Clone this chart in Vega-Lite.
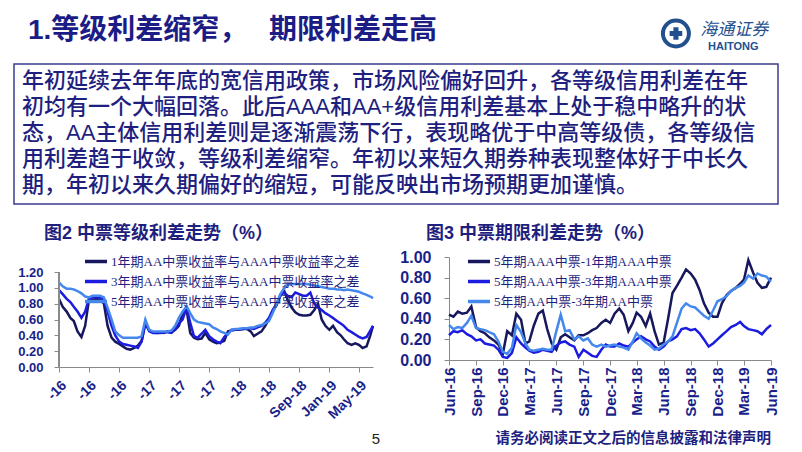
{
"$schema": "https://vega.github.io/schema/vega-lite/v6.json",
"background": "white",
"padding": {"left": 13, "top": 0, "right": 0, "bottom": 0},
"config": {
  "view": {"stroke": null},
  "font": "Liberation Sans, Noto Sans CJK SC",
  "axis": {"grid": false, "domainColor": "#8a8a8a", "tickColor": "#8a8a8a", "tickSize": 5, "labelFont": "Liberation Sans", "labelFontWeight": "bold", "labelColor": "#1a1f8a", "title": null, "labelOverlap": false, "labelBound": false},
  "title": {"font": "Liberation Sans, Noto Sans CJK SC"}
},
"datasets": {
  "para": [
    {"line": 1, "text": "年初延续去年年底的宽信用政策，市场风险偏好回升，各等级信用利差在年"},
    {"line": 2, "text": "初均有一个大幅回落。此后AAA和AA+级信用利差基本上处于稳中略升的状"},
    {"line": 3, "text": "态，AA主体信用利差则是逐渐震荡下行，表现略优于中高等级债，各等级信"},
    {"line": 4, "text": "用利差趋于收敛，等级利差缩窄。年初以来短久期券种表现整体好于中长久"},
    {"line": 5, "text": "期，年初以来久期偏好的缩短，可能反映出市场预期更加谨慎。"}
  ],
  "grade": [
    {"d":"2016-01-01","s":"y1","v":0.86},{"d":"2016-01-16","s":"y1","v":0.76},{"d":"2016-02-01","s":"y1","v":0.70},{"d":"2016-02-16","s":"y1","v":0.62},{"d":"2016-03-01","s":"y1","v":0.58},{"d":"2016-03-16","s":"y1","v":0.45},{"d":"2016-04-01","s":"y1","v":0.38},{"d":"2016-04-16","s":"y1","v":0.52},{"d":"2016-05-01","s":"y1","v":0.84},{"d":"2016-05-16","s":"y1","v":0.85},{"d":"2016-06-01","s":"y1","v":0.86},{"d":"2016-06-16","s":"y1","v":0.85},{"d":"2016-07-01","s":"y1","v":0.80},{"d":"2016-07-16","s":"y1","v":0.52},{"d":"2016-08-01","s":"y1","v":0.37},{"d":"2016-08-16","s":"y1","v":0.32},{"d":"2016-09-01","s":"y1","v":0.29},{"d":"2016-09-16","s":"y1","v":0.26},{"d":"2016-10-01","s":"y1","v":0.23},{"d":"2016-10-16","s":"y1","v":0.22},{"d":"2016-11-01","s":"y1","v":0.24},{"d":"2016-11-16","s":"y1","v":0.27},{"d":"2016-12-01","s":"y1","v":0.33},{"d":"2016-12-16","s":"y1","v":0.55},
    {"d":"2017-01-01","s":"y1","v":0.46},{"d":"2017-01-16","s":"y1","v":0.44},{"d":"2017-02-01","s":"y1","v":0.43},{"d":"2017-02-16","s":"y1","v":0.44},{"d":"2017-03-01","s":"y1","v":0.43},{"d":"2017-03-16","s":"y1","v":0.45},{"d":"2017-04-01","s":"y1","v":0.44},{"d":"2017-04-16","s":"y1","v":0.47},{"d":"2017-05-01","s":"y1","v":0.52},{"d":"2017-05-16","s":"y1","v":0.68},{"d":"2017-06-01","s":"y1","v":0.73},{"d":"2017-06-16","s":"y1","v":0.43},{"d":"2017-07-01","s":"y1","v":0.37},{"d":"2017-07-16","s":"y1","v":0.35},{"d":"2017-08-01","s":"y1","v":0.36},{"d":"2017-08-16","s":"y1","v":0.43},{"d":"2017-09-01","s":"y1","v":0.35},{"d":"2017-09-16","s":"y1","v":0.32},{"d":"2017-10-01","s":"y1","v":0.30},{"d":"2017-10-16","s":"y1","v":0.31},{"d":"2017-11-01","s":"y1","v":0.33},{"d":"2017-11-16","s":"y1","v":0.45},{"d":"2017-12-01","s":"y1","v":0.46},{"d":"2017-12-16","s":"y1","v":0.47},
    {"d":"2018-01-01","s":"y1","v":0.47},{"d":"2018-01-16","s":"y1","v":0.48},{"d":"2018-02-01","s":"y1","v":0.48},{"d":"2018-02-16","s":"y1","v":0.45},{"d":"2018-03-01","s":"y1","v":0.39},{"d":"2018-03-16","s":"y1","v":0.42},{"d":"2018-04-01","s":"y1","v":0.45},{"d":"2018-04-16","s":"y1","v":0.52},{"d":"2018-05-01","s":"y1","v":0.60},{"d":"2018-05-16","s":"y1","v":0.70},{"d":"2018-06-01","s":"y1","v":0.78},{"d":"2018-06-16","s":"y1","v":0.90},{"d":"2018-07-01","s":"y1","v":0.97},{"d":"2018-07-16","s":"y1","v":0.85},{"d":"2018-08-01","s":"y1","v":0.75},{"d":"2018-08-16","s":"y1","v":0.69},{"d":"2018-09-01","s":"y1","v":0.66},{"d":"2018-09-16","s":"y1","v":0.65},{"d":"2018-10-01","s":"y1","v":0.65},{"d":"2018-10-16","s":"y1","v":0.66},{"d":"2018-11-01","s":"y1","v":0.72},{"d":"2018-11-16","s":"y1","v":0.80},{"d":"2018-12-01","s":"y1","v":0.60},{"d":"2018-12-16","s":"y1","v":0.52},
    {"d":"2019-01-01","s":"y1","v":0.47},{"d":"2019-01-16","s":"y1","v":0.52},{"d":"2019-02-01","s":"y1","v":0.44},{"d":"2019-02-16","s":"y1","v":0.40},{"d":"2019-03-01","s":"y1","v":0.35},{"d":"2019-03-16","s":"y1","v":0.30},{"d":"2019-04-01","s":"y1","v":0.28},{"d":"2019-04-16","s":"y1","v":0.30},{"d":"2019-05-01","s":"y1","v":0.28},{"d":"2019-05-16","s":"y1","v":0.24},{"d":"2019-06-01","s":"y1","v":0.26},{"d":"2019-06-16","s":"y1","v":0.40},{"d":"2019-06-27","s":"y1","v":0.52},

    {"d":"2016-01-01","s":"y3","v":0.97},{"d":"2016-01-16","s":"y3","v":0.92},{"d":"2016-02-01","s":"y3","v":0.86},{"d":"2016-02-16","s":"y3","v":0.82},{"d":"2016-03-01","s":"y3","v":0.76},{"d":"2016-03-16","s":"y3","v":0.70},{"d":"2016-04-01","s":"y3","v":0.62},{"d":"2016-04-16","s":"y3","v":0.70},{"d":"2016-05-01","s":"y3","v":0.86},{"d":"2016-05-16","s":"y3","v":0.88},{"d":"2016-06-01","s":"y3","v":0.88},{"d":"2016-06-16","s":"y3","v":0.88},{"d":"2016-07-01","s":"y3","v":0.84},{"d":"2016-07-16","s":"y3","v":0.70},{"d":"2016-08-01","s":"y3","v":0.52},{"d":"2016-08-16","s":"y3","v":0.40},{"d":"2016-09-01","s":"y3","v":0.32},{"d":"2016-09-16","s":"y3","v":0.29},{"d":"2016-10-01","s":"y3","v":0.28},{"d":"2016-10-16","s":"y3","v":0.27},{"d":"2016-11-01","s":"y3","v":0.26},{"d":"2016-11-16","s":"y3","v":0.24},{"d":"2016-12-01","s":"y3","v":0.32},{"d":"2016-12-16","s":"y3","v":0.56},
    {"d":"2017-01-01","s":"y3","v":0.45},{"d":"2017-01-16","s":"y3","v":0.43},{"d":"2017-02-01","s":"y3","v":0.43},{"d":"2017-02-16","s":"y3","v":0.43},{"d":"2017-03-01","s":"y3","v":0.44},{"d":"2017-03-16","s":"y3","v":0.44},{"d":"2017-04-01","s":"y3","v":0.43},{"d":"2017-04-16","s":"y3","v":0.48},{"d":"2017-05-01","s":"y3","v":0.55},{"d":"2017-05-16","s":"y3","v":0.60},{"d":"2017-06-01","s":"y3","v":0.75},{"d":"2017-06-16","s":"y3","v":0.56},{"d":"2017-07-01","s":"y3","v":0.39},{"d":"2017-07-16","s":"y3","v":0.37},{"d":"2017-08-01","s":"y3","v":0.42},{"d":"2017-08-16","s":"y3","v":0.47},{"d":"2017-09-01","s":"y3","v":0.39},{"d":"2017-09-16","s":"y3","v":0.35},{"d":"2017-10-01","s":"y3","v":0.32},{"d":"2017-10-16","s":"y3","v":0.30},{"d":"2017-11-01","s":"y3","v":0.38},{"d":"2017-11-16","s":"y3","v":0.43},{"d":"2017-12-01","s":"y3","v":0.47},{"d":"2017-12-16","s":"y3","v":0.47},
    {"d":"2018-01-01","s":"y3","v":0.48},{"d":"2018-01-16","s":"y3","v":0.48},{"d":"2018-02-01","s":"y3","v":0.49},{"d":"2018-02-16","s":"y3","v":0.49},{"d":"2018-03-01","s":"y3","v":0.48},{"d":"2018-03-16","s":"y3","v":0.50},{"d":"2018-04-01","s":"y3","v":0.52},{"d":"2018-04-16","s":"y3","v":0.56},{"d":"2018-05-01","s":"y3","v":0.62},{"d":"2018-05-16","s":"y3","v":0.72},{"d":"2018-06-01","s":"y3","v":0.80},{"d":"2018-06-16","s":"y3","v":0.90},{"d":"2018-07-01","s":"y3","v":0.94},{"d":"2018-07-16","s":"y3","v":0.90},{"d":"2018-08-01","s":"y3","v":0.88},{"d":"2018-08-16","s":"y3","v":0.94},{"d":"2018-09-01","s":"y3","v":0.92},{"d":"2018-09-16","s":"y3","v":0.90},{"d":"2018-10-01","s":"y3","v":0.90},{"d":"2018-10-16","s":"y3","v":0.94},{"d":"2018-11-01","s":"y3","v":0.80},{"d":"2018-11-16","s":"y3","v":0.75},{"d":"2018-12-01","s":"y3","v":0.72},{"d":"2018-12-16","s":"y3","v":0.68},
    {"d":"2019-01-01","s":"y3","v":0.65},{"d":"2019-01-16","s":"y3","v":0.62},{"d":"2019-02-01","s":"y3","v":0.58},{"d":"2019-02-16","s":"y3","v":0.55},{"d":"2019-03-01","s":"y3","v":0.52},{"d":"2019-03-16","s":"y3","v":0.47},{"d":"2019-04-01","s":"y3","v":0.44},{"d":"2019-04-16","s":"y3","v":0.41},{"d":"2019-05-01","s":"y3","v":0.38},{"d":"2019-05-16","s":"y3","v":0.36},{"d":"2019-06-01","s":"y3","v":0.38},{"d":"2019-06-16","s":"y3","v":0.46},{"d":"2019-06-27","s":"y3","v":0.52},

    {"d":"2016-01-01","s":"y5","v":1.07},{"d":"2016-01-16","s":"y5","v":1.02},{"d":"2016-02-01","s":"y5","v":0.99},{"d":"2016-02-16","s":"y5","v":0.99},{"d":"2016-03-01","s":"y5","v":0.98},{"d":"2016-03-16","s":"y5","v":0.96},{"d":"2016-04-01","s":"y5","v":0.93},{"d":"2016-04-16","s":"y5","v":0.89},{"d":"2016-05-01","s":"y5","v":0.88},{"d":"2016-05-16","s":"y5","v":0.90},{"d":"2016-06-01","s":"y5","v":0.90},{"d":"2016-06-16","s":"y5","v":0.90},{"d":"2016-07-01","s":"y5","v":0.88},{"d":"2016-07-16","s":"y5","v":0.75},{"d":"2016-08-01","s":"y5","v":0.60},{"d":"2016-08-16","s":"y5","v":0.45},{"d":"2016-09-01","s":"y5","v":0.40},{"d":"2016-09-16","s":"y5","v":0.37},{"d":"2016-10-01","s":"y5","v":0.37},{"d":"2016-10-16","s":"y5","v":0.37},{"d":"2016-11-01","s":"y5","v":0.37},{"d":"2016-11-16","s":"y5","v":0.37},{"d":"2016-12-01","s":"y5","v":0.39},{"d":"2016-12-16","s":"y5","v":0.60},
    {"d":"2017-01-01","s":"y5","v":0.47},{"d":"2017-01-16","s":"y5","v":0.45},{"d":"2017-02-01","s":"y5","v":0.45},{"d":"2017-02-16","s":"y5","v":0.45},{"d":"2017-03-01","s":"y5","v":0.45},{"d":"2017-03-16","s":"y5","v":0.45},{"d":"2017-04-01","s":"y5","v":0.46},{"d":"2017-04-16","s":"y5","v":0.52},{"d":"2017-05-01","s":"y5","v":0.62},{"d":"2017-05-16","s":"y5","v":0.70},{"d":"2017-06-01","s":"y5","v":0.77},{"d":"2017-06-16","s":"y5","v":0.68},{"d":"2017-07-01","s":"y5","v":0.60},{"d":"2017-07-16","s":"y5","v":0.57},{"d":"2017-08-01","s":"y5","v":0.56},{"d":"2017-08-16","s":"y5","v":0.55},{"d":"2017-09-01","s":"y5","v":0.54},{"d":"2017-09-16","s":"y5","v":0.50},{"d":"2017-10-01","s":"y5","v":0.48},{"d":"2017-10-16","s":"y5","v":0.45},{"d":"2017-11-01","s":"y5","v":0.43},{"d":"2017-11-16","s":"y5","v":0.41},{"d":"2017-12-01","s":"y5","v":0.47},{"d":"2017-12-16","s":"y5","v":0.48},
    {"d":"2018-01-01","s":"y5","v":0.48},{"d":"2018-01-16","s":"y5","v":0.49},{"d":"2018-02-01","s":"y5","v":0.49},{"d":"2018-02-16","s":"y5","v":0.50},{"d":"2018-03-01","s":"y5","v":0.50},{"d":"2018-03-16","s":"y5","v":0.52},{"d":"2018-04-01","s":"y5","v":0.53},{"d":"2018-04-16","s":"y5","v":0.55},{"d":"2018-05-01","s":"y5","v":0.58},{"d":"2018-05-16","s":"y5","v":0.68},{"d":"2018-06-01","s":"y5","v":0.80},{"d":"2018-06-16","s":"y5","v":0.92},{"d":"2018-07-01","s":"y5","v":0.99},{"d":"2018-07-16","s":"y5","v":1.04},{"d":"2018-08-01","s":"y5","v":1.05},{"d":"2018-08-16","s":"y5","v":1.05},{"d":"2018-09-01","s":"y5","v":1.05},{"d":"2018-09-16","s":"y5","v":1.05},{"d":"2018-10-01","s":"y5","v":1.05},{"d":"2018-10-16","s":"y5","v":1.04},{"d":"2018-11-01","s":"y5","v":1.03},{"d":"2018-11-16","s":"y5","v":1.02},{"d":"2018-12-01","s":"y5","v":1.01},{"d":"2018-12-16","s":"y5","v":1.00},
    {"d":"2019-01-01","s":"y5","v":0.99},{"d":"2019-01-16","s":"y5","v":0.99},{"d":"2019-02-01","s":"y5","v":0.98},{"d":"2019-02-16","s":"y5","v":0.98},{"d":"2019-03-01","s":"y5","v":0.97},{"d":"2019-03-16","s":"y5","v":0.98},{"d":"2019-04-01","s":"y5","v":0.97},{"d":"2019-04-16","s":"y5","v":0.96},{"d":"2019-05-01","s":"y5","v":0.95},{"d":"2019-05-16","s":"y5","v":0.93},{"d":"2019-06-01","s":"y5","v":0.91},{"d":"2019-06-16","s":"y5","v":0.89},{"d":"2019-06-27","s":"y5","v":0.87}
  ],
  "term": [
    {"d":"2016-06-01","s":"a","v":0.44},{"d":"2016-06-16","s":"a","v":0.42},{"d":"2016-07-01","s":"a","v":0.47},{"d":"2016-07-16","s":"a","v":0.45},{"d":"2016-08-01","s":"a","v":0.46},{"d":"2016-08-16","s":"a","v":0.52},{"d":"2016-09-01","s":"a","v":0.32},{"d":"2016-09-16","s":"a","v":0.28},{"d":"2016-10-01","s":"a","v":0.26},{"d":"2016-10-16","s":"a","v":0.22},{"d":"2016-11-01","s":"a","v":0.19},{"d":"2016-11-16","s":"a","v":0.15},{"d":"2016-12-01","s":"a","v":0.06},{"d":"2016-12-16","s":"a","v":0.28},
    {"d":"2017-01-01","s":"a","v":0.24},{"d":"2017-01-16","s":"a","v":0.45},{"d":"2017-02-01","s":"a","v":0.39},{"d":"2017-02-16","s":"a","v":0.16},{"d":"2017-03-01","s":"a","v":0.18},{"d":"2017-03-16","s":"a","v":0.33},{"d":"2017-04-01","s":"a","v":0.45},{"d":"2017-04-16","s":"a","v":0.48},{"d":"2017-05-01","s":"a","v":0.30},{"d":"2017-05-16","s":"a","v":0.16},{"d":"2017-06-01","s":"a","v":0.10},{"d":"2017-06-16","s":"a","v":0.22},{"d":"2017-07-01","s":"a","v":0.25},{"d":"2017-07-16","s":"a","v":0.22},{"d":"2017-08-01","s":"a","v":0.19},{"d":"2017-08-16","s":"a","v":0.24},{"d":"2017-09-01","s":"a","v":0.24},{"d":"2017-09-16","s":"a","v":0.26},{"d":"2017-10-01","s":"a","v":0.29},{"d":"2017-10-16","s":"a","v":0.31},{"d":"2017-11-01","s":"a","v":0.36},{"d":"2017-11-16","s":"a","v":0.39},{"d":"2017-12-01","s":"a","v":0.36},{"d":"2017-12-16","s":"a","v":0.45},
    {"d":"2018-01-01","s":"a","v":0.50},{"d":"2018-01-16","s":"a","v":0.44},{"d":"2018-02-01","s":"a","v":0.28},{"d":"2018-02-16","s":"a","v":0.36},{"d":"2018-03-01","s":"a","v":0.46},{"d":"2018-03-16","s":"a","v":0.42},{"d":"2018-04-01","s":"a","v":0.33},{"d":"2018-04-16","s":"a","v":0.45},{"d":"2018-05-01","s":"a","v":0.28},{"d":"2018-05-16","s":"a","v":0.15},{"d":"2018-06-01","s":"a","v":0.17},{"d":"2018-06-16","s":"a","v":0.40},{"d":"2018-07-01","s":"a","v":0.65},{"d":"2018-07-16","s":"a","v":0.72},{"d":"2018-08-01","s":"a","v":0.80},{"d":"2018-08-16","s":"a","v":0.88},{"d":"2018-09-01","s":"a","v":0.84},{"d":"2018-09-16","s":"a","v":0.78},{"d":"2018-10-01","s":"a","v":0.68},{"d":"2018-10-16","s":"a","v":0.55},{"d":"2018-11-01","s":"a","v":0.46},{"d":"2018-11-16","s":"a","v":0.42},{"d":"2018-12-01","s":"a","v":0.42},{"d":"2018-12-16","s":"a","v":0.55},
    {"d":"2019-01-01","s":"a","v":0.63},{"d":"2019-01-16","s":"a","v":0.67},{"d":"2019-02-01","s":"a","v":0.70},{"d":"2019-02-16","s":"a","v":0.74},{"d":"2019-03-01","s":"a","v":0.78},{"d":"2019-03-16","s":"a","v":0.97},{"d":"2019-04-01","s":"a","v":0.85},{"d":"2019-04-16","s":"a","v":0.75},{"d":"2019-05-01","s":"a","v":0.70},{"d":"2019-05-16","s":"a","v":0.71},{"d":"2019-06-01","s":"a","v":0.80},

    {"d":"2016-06-01","s":"b","v":0.24},{"d":"2016-06-16","s":"b","v":0.28},{"d":"2016-07-01","s":"b","v":0.27},{"d":"2016-07-16","s":"b","v":0.29},{"d":"2016-08-01","s":"b","v":0.25},{"d":"2016-08-16","s":"b","v":0.23},{"d":"2016-09-01","s":"b","v":0.19},{"d":"2016-09-16","s":"b","v":0.20},{"d":"2016-10-01","s":"b","v":0.16},{"d":"2016-10-16","s":"b","v":0.15},{"d":"2016-11-01","s":"b","v":0.14},{"d":"2016-11-16","s":"b","v":0.10},{"d":"2016-12-01","s":"b","v":0.03},{"d":"2016-12-16","s":"b","v":0.02},
    {"d":"2017-01-01","s":"b","v":0.07},{"d":"2017-01-16","s":"b","v":0.22},{"d":"2017-02-01","s":"b","v":0.16},{"d":"2017-02-16","s":"b","v":0.12},{"d":"2017-03-01","s":"b","v":0.09},{"d":"2017-03-16","s":"b","v":0.07},{"d":"2017-04-01","s":"b","v":0.08},{"d":"2017-04-16","s":"b","v":0.10},{"d":"2017-05-01","s":"b","v":0.09},{"d":"2017-05-16","s":"b","v":0.08},{"d":"2017-06-01","s":"b","v":0.14},{"d":"2017-06-16","s":"b","v":0.17},{"d":"2017-07-01","s":"b","v":0.18},{"d":"2017-07-16","s":"b","v":0.15},{"d":"2017-08-01","s":"b","v":0.13},{"d":"2017-08-16","s":"b","v":0.03},{"d":"2017-09-01","s":"b","v":0.10},{"d":"2017-09-16","s":"b","v":0.07},{"d":"2017-10-01","s":"b","v":0.04},{"d":"2017-10-16","s":"b","v":0.03},{"d":"2017-11-01","s":"b","v":0.10},{"d":"2017-11-16","s":"b","v":0.15},{"d":"2017-12-01","s":"b","v":0.13},{"d":"2017-12-16","s":"b","v":0.13},
    {"d":"2018-01-01","s":"b","v":0.16},{"d":"2018-01-16","s":"b","v":0.14},{"d":"2018-02-01","s":"b","v":0.13},{"d":"2018-02-16","s":"b","v":0.17},{"d":"2018-03-01","s":"b","v":0.20},{"d":"2018-03-16","s":"b","v":0.23},{"d":"2018-04-01","s":"b","v":0.20},{"d":"2018-04-16","s":"b","v":0.18},{"d":"2018-05-01","s":"b","v":0.13},{"d":"2018-05-16","s":"b","v":0.10},{"d":"2018-06-01","s":"b","v":0.13},{"d":"2018-06-16","s":"b","v":0.18},{"d":"2018-07-01","s":"b","v":0.20},{"d":"2018-07-16","s":"b","v":0.23},{"d":"2018-08-01","s":"b","v":0.30},{"d":"2018-08-16","s":"b","v":0.31},{"d":"2018-09-01","s":"b","v":0.29},{"d":"2018-09-16","s":"b","v":0.30},{"d":"2018-10-01","s":"b","v":0.26},{"d":"2018-10-16","s":"b","v":0.20},{"d":"2018-11-01","s":"b","v":0.13},{"d":"2018-11-16","s":"b","v":0.16},{"d":"2018-12-01","s":"b","v":0.20},{"d":"2018-12-16","s":"b","v":0.24},
    {"d":"2019-01-01","s":"b","v":0.28},{"d":"2019-01-16","s":"b","v":0.32},{"d":"2019-02-01","s":"b","v":0.34},{"d":"2019-02-16","s":"b","v":0.37},{"d":"2019-03-01","s":"b","v":0.33},{"d":"2019-03-16","s":"b","v":0.30},{"d":"2019-04-01","s":"b","v":0.29},{"d":"2019-04-16","s":"b","v":0.28},{"d":"2019-05-01","s":"b","v":0.25},{"d":"2019-05-16","s":"b","v":0.30},{"d":"2019-06-01","s":"b","v":0.34},

    {"d":"2016-06-01","s":"c","v":0.34},{"d":"2016-06-16","s":"c","v":0.30},{"d":"2016-07-01","s":"c","v":0.32},{"d":"2016-07-16","s":"c","v":0.31},{"d":"2016-08-01","s":"c","v":0.36},{"d":"2016-08-16","s":"c","v":0.43},{"d":"2016-09-01","s":"c","v":0.31},{"d":"2016-09-16","s":"c","v":0.30},{"d":"2016-10-01","s":"c","v":0.29},{"d":"2016-10-16","s":"c","v":0.27},{"d":"2016-11-01","s":"c","v":0.25},{"d":"2016-11-16","s":"c","v":0.18},{"d":"2016-12-01","s":"c","v":0.08},{"d":"2016-12-16","s":"c","v":0.06},
    {"d":"2017-01-01","s":"c","v":0.12},{"d":"2017-01-16","s":"c","v":0.34},{"d":"2017-02-01","s":"c","v":0.27},{"d":"2017-02-16","s":"c","v":0.16},{"d":"2017-03-01","s":"c","v":0.10},{"d":"2017-03-16","s":"c","v":0.09},{"d":"2017-04-01","s":"c","v":0.10},{"d":"2017-04-16","s":"c","v":0.11},{"d":"2017-05-01","s":"c","v":0.10},{"d":"2017-05-16","s":"c","v":0.10},{"d":"2017-06-01","s":"c","v":0.28},{"d":"2017-06-16","s":"c","v":0.44},{"d":"2017-07-01","s":"c","v":0.28},{"d":"2017-07-16","s":"c","v":0.29},{"d":"2017-08-01","s":"c","v":0.20},{"d":"2017-08-16","s":"c","v":0.23},{"d":"2017-09-01","s":"c","v":0.19},{"d":"2017-09-16","s":"c","v":0.21},{"d":"2017-10-01","s":"c","v":0.15},{"d":"2017-10-16","s":"c","v":0.13},{"d":"2017-11-01","s":"c","v":0.15},{"d":"2017-11-16","s":"c","v":0.13},{"d":"2017-12-01","s":"c","v":0.14},{"d":"2017-12-16","s":"c","v":0.15},
    {"d":"2018-01-01","s":"c","v":0.13},{"d":"2018-01-16","s":"c","v":0.12},{"d":"2018-02-01","s":"c","v":0.10},{"d":"2018-02-16","s":"c","v":0.18},{"d":"2018-03-01","s":"c","v":0.26},{"d":"2018-03-16","s":"c","v":0.21},{"d":"2018-04-01","s":"c","v":0.17},{"d":"2018-04-16","s":"c","v":0.14},{"d":"2018-05-01","s":"c","v":0.10},{"d":"2018-05-16","s":"c","v":0.11},{"d":"2018-06-01","s":"c","v":0.15},{"d":"2018-06-16","s":"c","v":0.18},{"d":"2018-07-01","s":"c","v":0.23},{"d":"2018-07-16","s":"c","v":0.36},{"d":"2018-08-01","s":"c","v":0.50},{"d":"2018-08-16","s":"c","v":0.55},{"d":"2018-09-01","s":"c","v":0.52},{"d":"2018-09-16","s":"c","v":0.51},{"d":"2018-10-01","s":"c","v":0.47},{"d":"2018-10-16","s":"c","v":0.43},{"d":"2018-11-01","s":"c","v":0.40},{"d":"2018-11-16","s":"c","v":0.48},{"d":"2018-12-01","s":"c","v":0.57},{"d":"2018-12-16","s":"c","v":0.59},
    {"d":"2019-01-01","s":"c","v":0.62},{"d":"2019-01-16","s":"c","v":0.67},{"d":"2019-02-01","s":"c","v":0.70},{"d":"2019-02-16","s":"c","v":0.72},{"d":"2019-03-01","s":"c","v":0.75},{"d":"2019-03-16","s":"c","v":0.82},{"d":"2019-04-01","s":"c","v":0.79},{"d":"2019-04-16","s":"c","v":0.84},{"d":"2019-05-01","s":"c","v":0.82},{"d":"2019-05-16","s":"c","v":0.81},{"d":"2019-06-01","s":"c","v":0.76}
  ]
},
"columns": 1,
"spacing": 0,
"concat": [
  {
    "width": 776, "height": 63,
    "data": {"values": [{}]},
    "layer": [
      {"mark": {"type": "text", "text": "1.等级利差缩窄，　 期限利差走高", "align": "left", "baseline": "middle", "fontSize": 28, "fontWeight": "bold", "color": "#1c1c86"},
       "encoding": {"x": {"datum": 0.018, "type": "quantitative", "scale": {"domain": [0, 1]}, "axis": null}, "y": {"datum": 0.508, "type": "quantitative", "scale": {"domain": [0, 1]}, "axis": null}}},
      {"mark": {"type": "point", "shape": "circle", "size": 676, "filled": false, "stroke": "#22508f", "strokeWidth": 4, "opacity": 1},
       "encoding": {"x": {"datum": 0.853, "type": "quantitative", "axis": null}, "y": {"datum": 0.468, "type": "quantitative", "axis": null}}},
      {"mark": {"type": "point", "shape": "cross", "size": 160, "filled": true, "color": "#22508f", "opacity": 1},
       "encoding": {"x": {"datum": 0.853, "type": "quantitative", "axis": null}, "y": {"datum": 0.468, "type": "quantitative", "axis": null}}},
      {"mark": {"type": "text", "text": "海通证券", "align": "center", "baseline": "middle", "fontSize": 17, "fontStyle": "italic", "color": "#22508f", "font": "Noto Sans CJK SC"},
       "encoding": {"x": {"datum": 0.928, "type": "quantitative", "axis": null}, "y": {"datum": 0.516, "type": "quantitative", "axis": null}}},
      {"mark": {"type": "text", "text": "HAITONG", "align": "center", "baseline": "middle", "fontSize": 11, "fontWeight": "bold", "color": "#22508f", "font": "Liberation Sans"},
       "encoding": {"x": {"datum": 0.927, "type": "quantitative", "axis": null}, "y": {"datum": 0.254, "type": "quantitative", "axis": null}}}
    ]
  },
  {
    "columns": 1,
    "spacing": 19,
    "concat": [
      {
        "width": 764, "height": 140,
        "view": {"stroke": "#3b3b8f", "strokeWidth": 1.5},
        "data": {"name": "para"},
        "mark": {"type": "text", "align": "left", "baseline": "middle", "fontSize": 22, "fontWeight": 500, "color": "#1f1f80", "dx": 8, "dy": -1},
        "encoding": {
          "x": {"datum": 0, "type": "quantitative", "scale": {"domain": [0, 1]}, "axis": null},
          "y": {"field": "line", "type": "ordinal", "scale": {"type": "point", "padding": 0.69}, "axis": null},
          "text": {"field": "text", "type": "nominal"}
        }
      },
      {
        "columns": 2,
        "spacing": 0,
        "concat": [
          {"width": 3, "height": 1, "data": {"values": [{}]}, "mark": {"type": "text", "text": ""}},
          {
            "columns": 2,
            "spacing": 21,
            "concat": [
              {
                "width": 314, "height": 110,
                "title": {"text": "图2 中票等级利差走势（%）", "anchor": "start", "frame": "group", "dx": -15, "offset": 6, "fontSize": 18, "fontWeight": "bold", "color": "#1f1f80"},
                "data": {"name": "grade"},
                "resolve": {"axis": {"x": "independent", "y": "independent"}},
                "layer": [
                  {
                    "mark": {"type": "line", "strokeWidth": 2.5},
                    "encoding": {
                      "x": {"field": "d", "type": "temporal",
                        "scale": {"type": "utc", "nice": false, "domain": [{"year": 2016, "month": 1, "date": 1, "utc": true}, {"year": 2019, "month": 6, "date": 27, "utc": true}]},
                        "axis": {"values": [{"year": 2016, "month": 1, "date": 1, "utc": true}, {"year": 2016, "month": 5, "date": 1, "utc": true}, {"year": 2016, "month": 9, "date": 1, "utc": true}, {"year": 2017, "month": 1, "date": 1, "utc": true}, {"year": 2017, "month": 5, "date": 1, "utc": true}, {"year": 2017, "month": 9, "date": 1, "utc": true}, {"year": 2018, "month": 1, "date": 1, "utc": true}, {"year": 2018, "month": 5, "date": 1, "utc": true}, {"year": 2018, "month": 9, "date": 1, "utc": true}, {"year": 2019, "month": 1, "date": 1, "utc": true}, {"year": 2019, "month": 5, "date": 1, "utc": true}],
                          "labelAngle": -45, "labelFontSize": 14, "labelPadding": 6, "labelOverlap": false, "labelFlush": false,
                          "labelExpr": "datum.value < utc(2018, 7, 1) ? '-' + utcFormat(datum.value, '%y') : utcFormat(datum.value, '%b-%y')"}},
                      "y": {"field": "v", "type": "quantitative", "scale": {"domain": [0, 1.3895], "nice": false, "zero": true},
                        "axis": {"values": [0, 0.2, 0.4, 0.6, 0.8, 1.0, 1.2], "format": ".2f", "labelFontSize": 13, "labelPadding": 11, "domain": false, "labelOverlap": false, "labelFlush": false}},
                      "color": {"field": "s", "type": "nominal",
                        "scale": {"domain": ["y1", "y3", "y5"], "range": ["#17175e", "#1c1ce0", "#4488ee"]},
                        "legend": {"orient": "none", "legendX": 24, "legendY": -8.5, "title": null, "symbolType": "stroke", "symbolSize": 484, "symbolStrokeWidth": 3.5, "labelFont": "Liberation Serif, Noto Sans CJK SC", "labelFontSize": 13, "labelColor": "#1f1f80", "rowPadding": -2, "labelOffset": 2, "labelLimit": 400,
                          "labelExpr": "datum.label == 'y1' ? '1年期AA中票收益率与AAA中票收益率之差' : datum.label == 'y3' ? '3年期AA中票收益率与AAA中票收益率之差' : '5年期AA中票收益率与AAA中票收益率之差'"}}
                    }
                  },
                  {
                    "mark": {"type": "rule", "color": "#8a8a8a", "strokeWidth": 1},
                    "encoding": {
                      "x": {"datum": {"year": 2016, "month": 1, "date": 1, "utc": true}, "type": "temporal", "axis": null},
                      "y": {"datum": 0, "type": "quantitative", "axis": null},
                      "y2": {"datum": 1.2}
                    }
                  }
                ]
              },
              {
                "width": 322, "height": 103,
                "title": {"text": "图3 中票期限利差走势（%）", "anchor": "start", "frame": "group", "dx": -23, "offset": 6, "fontSize": 18, "fontWeight": "bold", "color": "#1f1f80"},
                "data": {"name": "term"},
                "mark": {"type": "line", "strokeWidth": 2.5},
                "encoding": {
                  "x": {"field": "d", "type": "temporal",
                    "scale": {"type": "utc", "nice": false, "domain": [{"year": 2016, "month": 6, "date": 1, "utc": true}, {"year": 2019, "month": 6, "date": 1, "utc": true}]},
                    "axis": {"values": [{"year": 2016, "month": 6, "date": 1, "utc": true}, {"year": 2016, "month": 9, "date": 1, "utc": true}, {"year": 2016, "month": 12, "date": 1, "utc": true}, {"year": 2017, "month": 3, "date": 1, "utc": true}, {"year": 2017, "month": 6, "date": 1, "utc": true}, {"year": 2017, "month": 9, "date": 1, "utc": true}, {"year": 2017, "month": 12, "date": 1, "utc": true}, {"year": 2018, "month": 3, "date": 1, "utc": true}, {"year": 2018, "month": 6, "date": 1, "utc": true}, {"year": 2018, "month": 9, "date": 1, "utc": true}, {"year": 2018, "month": 12, "date": 1, "utc": true}, {"year": 2019, "month": 3, "date": 1, "utc": true}, {"year": 2019, "month": 6, "date": 1, "utc": true}],
                      "labelAngle": -90, "labelFontSize": 15, "labelPadding": 2, "labelOverlap": false,
                      "labelExpr": "utcFormat(datum.value, '%b-%y')"}},
                  "y": {"field": "v", "type": "quantitative", "scale": {"domain": [0, 1], "nice": false},
                    "axis": {"values": [0, 0.2, 0.4, 0.6, 0.8, 1.0], "format": ".2f", "labelFontSize": 16, "labelPadding": 13, "labelOverlap": false}},
                  "color": {"field": "s", "type": "nominal",
                    "scale": {"domain": ["a", "b", "c"], "range": ["#17175e", "#1c1ce0", "#4488ee"]},
                    "legend": {"orient": "none", "legendX": 17, "legendY": -8.5, "title": null, "symbolType": "stroke", "symbolSize": 484, "symbolStrokeWidth": 3.5, "labelFont": "Liberation Serif, Noto Sans CJK SC", "labelFontSize": 13, "labelColor": "#1f1f80", "rowPadding": -2, "labelOffset": 2, "labelLimit": 400,
                      "labelExpr": "datum.label == 'a' ? '5年期AAA中票-1年期AAA中票' : datum.label == 'b' ? '5年期AAA中票-3年期AAA中票' : '5年期AA中票-3年期AA中票'"}}
                }
              }
            ],
            "resolve": {"scale": {"x": "independent", "y": "independent", "color": "independent"}}
          }
        ]
      }
    ]
  },
  {
    "width": 776, "height": 40,
    "data": {"values": [{}]},
    "layer": [
      {"mark": {"type": "text", "text": "5", "align": "center", "baseline": "middle", "fontSize": 15, "color": "#222222", "font": "Liberation Sans"},
       "encoding": {"x": {"datum": 0.4665, "type": "quantitative", "scale": {"domain": [0, 1]}, "axis": null}, "y": {"datum": 0.575, "type": "quantitative", "scale": {"domain": [0, 1]}, "axis": null}}},
      {"mark": {"type": "text", "text": "请务必阅读正文之后的信息披露和法律声明", "align": "center", "baseline": "middle", "fontSize": 14.5, "fontWeight": "bold", "color": "#1f1f80", "font": "Noto Sans CJK SC"},
       "encoding": {"x": {"datum": 0.798, "type": "quantitative", "axis": null}, "y": {"datum": 0.575, "type": "quantitative", "axis": null}}}
    ]
  }
]
}
